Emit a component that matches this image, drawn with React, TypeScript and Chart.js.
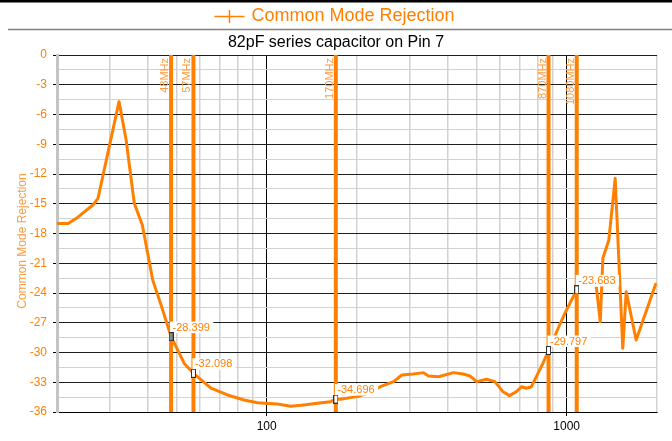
import React, { useEffect, useRef } from 'react';
import { Chart, registerables } from 'chart.js';

Chart.register(...registerables);

// ---------- data ----------
const freqMHz = [
  20, 21.8, 23.2, 26.4, 27.4, 29.2, 32.2, 34.0, 36.2, 38.5, 41.7, 45.0, 48, 53.1, 57,
  65.2, 74.0, 84.1, 93.1, 108.5, 120.2, 133, 147.4, 163.2, 170, 176, 200, 221.6, 239,
  265, 282, 308, 333, 346, 374, 419, 452, 476, 501, 541, 576, 613, 645, 680, 707, 734,
  763, 802, 833, 870, 948, 986, 1080, 1150, 1255, 1294, 1320, 1382, 1451, 1538, 1579,
  1704, 1986,
];
const rejectionDb: (number | null)[] = [
  -17.0, -17.0, -16.47, -15.1, -14.45, -10.6, -4.7, -8.57, -14.96, -17.14, -22.7, -25.7,
  -28.399, -31.1, -32.098, -33.6, -34.28, -34.79, -35.06, -35.19, -35.43, -35.29, -35.12,
  -34.96, -34.696, -34.72, -34.45, -34.05, -33.45, -32.94, -32.27, -32.17, -32.03, -32.37,
  -32.44, -32.03, -32.17, -32.37, -32.94, -32.7, -32.94, -33.95, -34.35, -33.95, -33.45,
  -33.61, -33.45, -32.1, -31.1, -29.797, -27.2, -26.05, -23.683, null, -23.36, -26.9,
  -20.5, -18.65, -12.43, -29.58, -23.87, -28.74, -23.0,
];
const cursorFreqs = [48, 57, 170, 870, 1080];
const cursorLabels = ['48MHz', '57MHz', '170MHz', '870MHz', '1080MHz'];
const cursorValues = [-28.399, -32.098, -34.696, -29.797, -23.683];
const xGridTicks = [20, 30, 40, 50, 60, 70, 80, 90, 100, 200, 300, 400, 500, 600, 700, 800, 900, 1000, 2000];
const xLabelTicks = [100, 1000];
const yMin = -36;
const yMax = 0;
const yStep = 1.5;
const yLabelStep = 3;
const legendLabel = 'Common Mode Rejection';
const chartTitle = '82pF series capacitor on Pin 7';
const yAxisTitle = 'Common Mode Rejection';

const ORANGE = '#FF8000';
const LABEL_ORANGE = '#FF9A3C';
const FONT = '"Liberation Sans", Arial, sans-serif';

function makeMarker(fill: string) {
  const c = document.createElement('canvas');
  c.width = 5;
  c.height = 9;
  const g = c.getContext('2d')!;
  g.fillStyle = fill;
  g.fillRect(0, 0, 5, 9);
  g.strokeStyle = '#333';
  g.lineWidth = 1;
  g.strokeRect(0.5, 0.5, 4, 8);
  return c;
}

const isMajorY = (v: number) => Math.abs(v / yLabelStep - Math.round(v / yLabelStep)) < 1e-6;

export default function App() {
  const canvasRef = useRef<HTMLCanvasElement | null>(null);

  useEffect(() => {
    if (!canvasRef.current) return;
    const grayMarker = makeMarker('#8a8a8a');
    const whiteMarker = makeMarker('#ffffff');

    const clipToArea = (ctx: any, a: any) => {
      ctx.beginPath();
      ctx.rect(a.left, a.top, a.right - a.left, a.bottom - a.top);
      ctx.clip();
    };

    const decor = {
      id: 'decor',
      beforeDraw(chart: any) {
        const { ctx, width } = chart;
        ctx.save();
        ctx.fillStyle = '#fff';
        ctx.fillRect(0, 0, width, chart.height);
        ctx.fillStyle = '#000';
        ctx.fillRect(0, 0, width, 2.5);
        ctx.strokeStyle = '#808080';
        ctx.lineWidth = 1.5;
        ctx.beginPath();
        ctx.moveTo(8, 29.5);
        ctx.lineTo(width, 29.5);
        ctx.stroke();
        ctx.font = `18px ${FONT}`;
        const tw = ctx.measureText(legendLabel).width;
        const total = 30 + 8 + tw;
        const sx = width / 2 - total / 2 - 1;
        const ly = 16.5;
        ctx.strokeStyle = ORANGE;
        ctx.lineWidth = 1.5;
        ctx.beginPath();
        ctx.moveTo(sx, ly);
        ctx.lineTo(sx + 30, ly);
        ctx.moveTo(sx + 15, ly - 6.5);
        ctx.lineTo(sx + 15, ly + 6.5);
        ctx.stroke();
        ctx.fillStyle = ORANGE;
        ctx.textAlign = 'left';
        ctx.textBaseline = 'middle';
        ctx.fillText(legendLabel, sx + 37, ly);
        ctx.font = `16px ${FONT}`;
        ctx.fillStyle = '#000';
        ctx.textAlign = 'center';
        ctx.fillText(chartTitle, width / 2, 42.5);
        ctx.restore();
        ctx.save();
        ctx.translate(23, 241);
        ctx.rotate(-Math.PI / 2);
        ctx.font = `12px ${FONT}`;
        ctx.fillStyle = LABEL_ORANGE;
        ctx.textAlign = 'center';
        ctx.textBaseline = 'middle';
        ctx.fillText(yAxisTitle, 0, 0);
        ctx.restore();
      },
      afterDatasetDraw(chart: any, args: any) {
        if (args.index !== 1) return;
        const { ctx, chartArea } = chart;
        const xs = chart.scales.x;
        const ys = chart.scales.y;
        ctx.save();
        clipToArea(ctx, chartArea);
        ctx.font = `11px ${FONT}`;
        cursorFreqs.forEach((f, i) => {
          const px = xs.getPixelForValue(f);
          const py = ys.getPixelForValue(cursorValues[i]);
          const text = cursorValues[i].toFixed(3);
          const w = ctx.measureText(text).width;
          ctx.fillStyle = '#fff';
          ctx.fillRect(px - 1, py - 15, w + 6, 11.5);
          ctx.fillStyle = ORANGE;
          ctx.textAlign = 'left';
          ctx.textBaseline = 'middle';
          ctx.fillText(text, px + 1.5, py - 9);
        });
        ctx.restore();
      },
      afterDatasetsDraw(chart: any) {
        const { ctx, chartArea } = chart;
        const xs = chart.scales.x;
        ctx.save();
        clipToArea(ctx, chartArea);
        ctx.font = `11px ${FONT}`;
        ctx.fillStyle = LABEL_ORANGE;
        cursorFreqs.forEach((f, i) => {
          const px = xs.getPixelForValue(f);
          ctx.save();
          ctx.translate(px - 3, chartArea.top + 3);
          ctx.rotate(-Math.PI / 2);
          ctx.textAlign = 'right';
          ctx.textBaseline = 'alphabetic';
          ctx.fillText(cursorLabels[i], 0, 0);
          ctx.restore();
        });
        ctx.restore();
      },
    };

    const cursorLineSets = cursorFreqs.map((f) => ({
      label: 'cursor',
      data: [
        { x: f, y: yMax },
        { x: f, y: yMin },
      ],
      borderColor: ORANGE,
      borderWidth: 4,
      pointRadius: 0,
      showLine: true,
      clip: 0,
    }));

    const chart = new Chart(canvasRef.current, {
      type: 'line',
      data: {
        datasets: [
          {
            label: 'markers',
            data: cursorFreqs.map((f, i) => ({ x: f, y: cursorValues[i] })),
            showLine: false,
            pointRadius: 5,
            pointStyle: (c: any) => (c.dataIndex === 0 ? grayMarker : whiteMarker),
          },
          {
            label: legendLabel,
            data: freqMHz.map((f, i) => ({ x: f, y: rejectionDb[i] })),
            borderColor: ORANGE,
            borderWidth: 3,
            pointRadius: 0,
            tension: 0,
            spanGaps: false,
            borderJoinStyle: 'round',
          },
          ...cursorLineSets,
        ] as any,
      },
      options: {
        animation: false,
        responsive: true,
        maintainAspectRatio: false,
        events: [],
        font: { family: FONT },
        layout: { padding: { top: 55, right: 15, bottom: 0, left: 0 } },
        plugins: {
          legend: { display: false },
          title: { display: false },
          tooltip: { enabled: false },
        },
        scales: {
          x: {
            type: 'logarithmic',
            min: 20,
            max: 2000,
            afterBuildTicks: (s: any) => {
              s.ticks = xGridTicks.map((v) => ({ value: v }));
            },
            afterFit: (s: any) => {
              s.height = 29;
            },
            ticks: {
              autoSkip: false,
              maxRotation: 0,
              color: '#000',
              font: { size: 12, family: FONT },
              callback: (v: any) => (xLabelTicks.includes(Number(v)) ? String(v) : ''),
            },
            grid: {
              color: (c: any) => (c.tick && xLabelTicks.includes(c.tick.value) ? '#000' : '#d2d2d2'),
              lineWidth: (c: any) => (c.tick && xLabelTicks.includes(c.tick.value) ? 1 : 1.5),
              tickColor: (c: any) => (c.tick && xLabelTicks.includes(c.tick.value) ? '#000' : '#ffffff'),
              tickLength: 4,
            },
            border: { color: '#000', width: 1 },
          },
          y: {
            type: 'linear',
            min: yMin,
            max: yMax,
            afterFit: (s: any) => {
              s.width = 57;
            },
            ticks: {
              stepSize: yStep,
              autoSkip: false,
              padding: 6,
              color: ORANGE,
              font: { size: 12, family: FONT },
              callback: (v: any) => (isMajorY(Number(v)) ? String(Math.round(Number(v))) : ''),
            },
            grid: {
              color: (c: any) => (c.tick && isMajorY(c.tick.value) ? '#1e1e1e' : '#d2d2d2'),
              lineWidth: 1,
              tickColor: (c: any) => (c.tick && isMajorY(c.tick.value) ? '#000' : '#ffffff'),
              tickLength: 4,
            },
            border: { color: '#c4c4c4', width: 3 },
          },
        },
      } as any,
      plugins: [decor],
    });

    return () => chart.destroy();
  }, []);

  return (
    <div style={{ position: 'absolute', left: 0, top: 0, width: 672, height: 441, background: '#fff' }}>
      <canvas ref={canvasRef} />
    </div>
  );
}
